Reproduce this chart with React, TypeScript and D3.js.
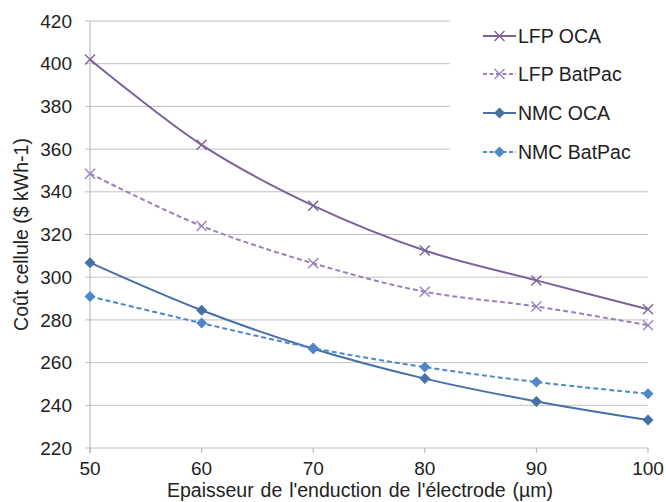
import React from "react";
import * as d3 from "d3";

const thickness = [50, 60, 70, 80, 90, 100];
const lfpOCA = [402, 362, 333.5, 312.5, 298.5, 285];
const lfpBatPac = [348.5, 324, 306.5, 293.2, 286.3, 277.5];
const nmcOCA = [306.8, 284.5, 266.5, 252.5, 241.8, 233.1];
const nmcBatPac = [291, 278.5, 266.8, 257.9, 250.9, 245.4];
const yTicks = [220, 240, 260, 280, 300, 320, 340, 360, 380, 400, 420];
const xTicks = [50, 60, 70, 80, 90, 100];

const seriesNames = ["LFP OCA", "LFP BatPac", "NMC OCA", "NMC BatPac"];
const seriesValues = [lfpOCA, lfpBatPac, nmcOCA, nmcBatPac];
const seriesColors = ["#7b629d", "#9a80c0", "#4670a6", "#4f88c8"];
const seriesDashed = [false, true, false, true];
const seriesMarker = ["x", "x", "d", "d"];

const W = 666;
const H = 502;
const m = { left: 90, right: 18, top: 21, bottom: 54 };
const FONT = "'Liberation Sans', Arial, sans-serif";

function Marker({ type, x, y, color }: { type: string; x: number; y: number; color: string }) {
  if (type === "x") {
    const s = 5;
    return (
      <path
        d={`M${x - s},${y - s}L${x + s},${y + s}M${x - s},${y + s}L${x + s},${y - s}`}
        stroke={color}
        strokeWidth={1.4}
        fill="none"
      />
    );
  }
  const s = 5.5;
  return <path d={`M${x},${y - s}L${x + s},${y}L${x},${y + s}L${x - s},${y}Z`} fill={color} stroke="none" />;
}

export default function App() {
  const x = d3.scaleLinear().domain([50, 100]).range([m.left, W - m.right]);
  const y = d3.scaleLinear().domain([220, 420]).range([H - m.bottom, m.top]);
  const line = d3
    .line<number>()
    .x((_, i) => x(thickness[i]))
    .y((d) => y(d))
    .curve(d3.curveCatmullRom.alpha(0.5));

  const legendX = 483;
  const legendYs = [36, 74, 113, 152];

  return (
    <svg width={W} height={H} style={{ position: "absolute", left: 0, top: 0, background: "#fff" }} fontFamily={FONT}>
      {/* gridlines */}
      {yTicks.map((t) => (
        <line key={"g" + t} x1={x(50) - 5} x2={x(100)} y1={y(t)} y2={y(t)} stroke="#c0c0c0" strokeWidth={1} />
      ))}
      {/* axis lines */}
      <line x1={x(50)} x2={x(50)} y1={y(420)} y2={y(220) + 5} stroke="#b0b0b0" strokeWidth={1} />
      {xTicks.map((t) => (
        <line key={"xt" + t} x1={x(t)} x2={x(t)} y1={y(220)} y2={y(220) + 5} stroke="#b0b0b0" strokeWidth={1} />
      ))}
      {/* y tick labels */}
      {yTicks.map((t) => (
        <text key={"yl" + t} x={72} y={y(t)} dy="0.35em" textAnchor="end" fontSize={19} fill="#222">
          {t}
        </text>
      ))}
      {/* x tick labels */}
      {xTicks.map((t) => (
        <text key={"xl" + t} x={x(t)} y={y(220) + 27} textAnchor="middle" fontSize={19} fill="#222">
          {t}
        </text>
      ))}
      {/* axis titles */}
      <text x={360} y={497} textAnchor="middle" fontSize={19.5} wordSpacing={1.5} fill="#222">
        Epaisseur de l'enduction de l'électrode (µm)
      </text>
      <text
        transform={`translate(28, ${(y(220) + y(420)) / 2}) rotate(-90)`}
        textAnchor="middle"
        fontSize={19.5}
        fill="#222"
      >
        Coût cellule ($ kWh-1)
      </text>
      {/* legend background */}
      <rect x={450} y={12} width={210} height={163} fill="#fff" />
      {/* series */}
      {seriesValues.map((vals, si) => (
        <g key={"s" + si}>
          <path
            d={line(vals) || ""}
            fill="none"
            stroke={seriesColors[si]}
            strokeWidth={2}
            strokeDasharray={seriesDashed[si] ? "5,3" : undefined}
          />
          {vals.map((v, i) => (
            <Marker key={i} type={seriesMarker[si]} x={x(thickness[i])} y={y(v)} color={seriesColors[si]} />
          ))}
        </g>
      ))}
      {/* legend */}
      {seriesNames.map((name, si) => (
        <g key={"l" + si}>
          <line
            x1={legendX}
            x2={legendX + 33}
            y1={legendYs[si]}
            y2={legendYs[si]}
            stroke={seriesColors[si]}
            strokeWidth={2}
            strokeDasharray={seriesDashed[si] ? "4,2.5" : undefined}
          />
          <Marker type={seriesMarker[si]} x={legendX + 16.5} y={legendYs[si]} color={seriesColors[si]} />
          <text x={legendX + 35} y={legendYs[si]} dy="0.36em" fontSize={19.5} fill="#222">
            {name}
          </text>
        </g>
      ))}
    </svg>
  );
}
